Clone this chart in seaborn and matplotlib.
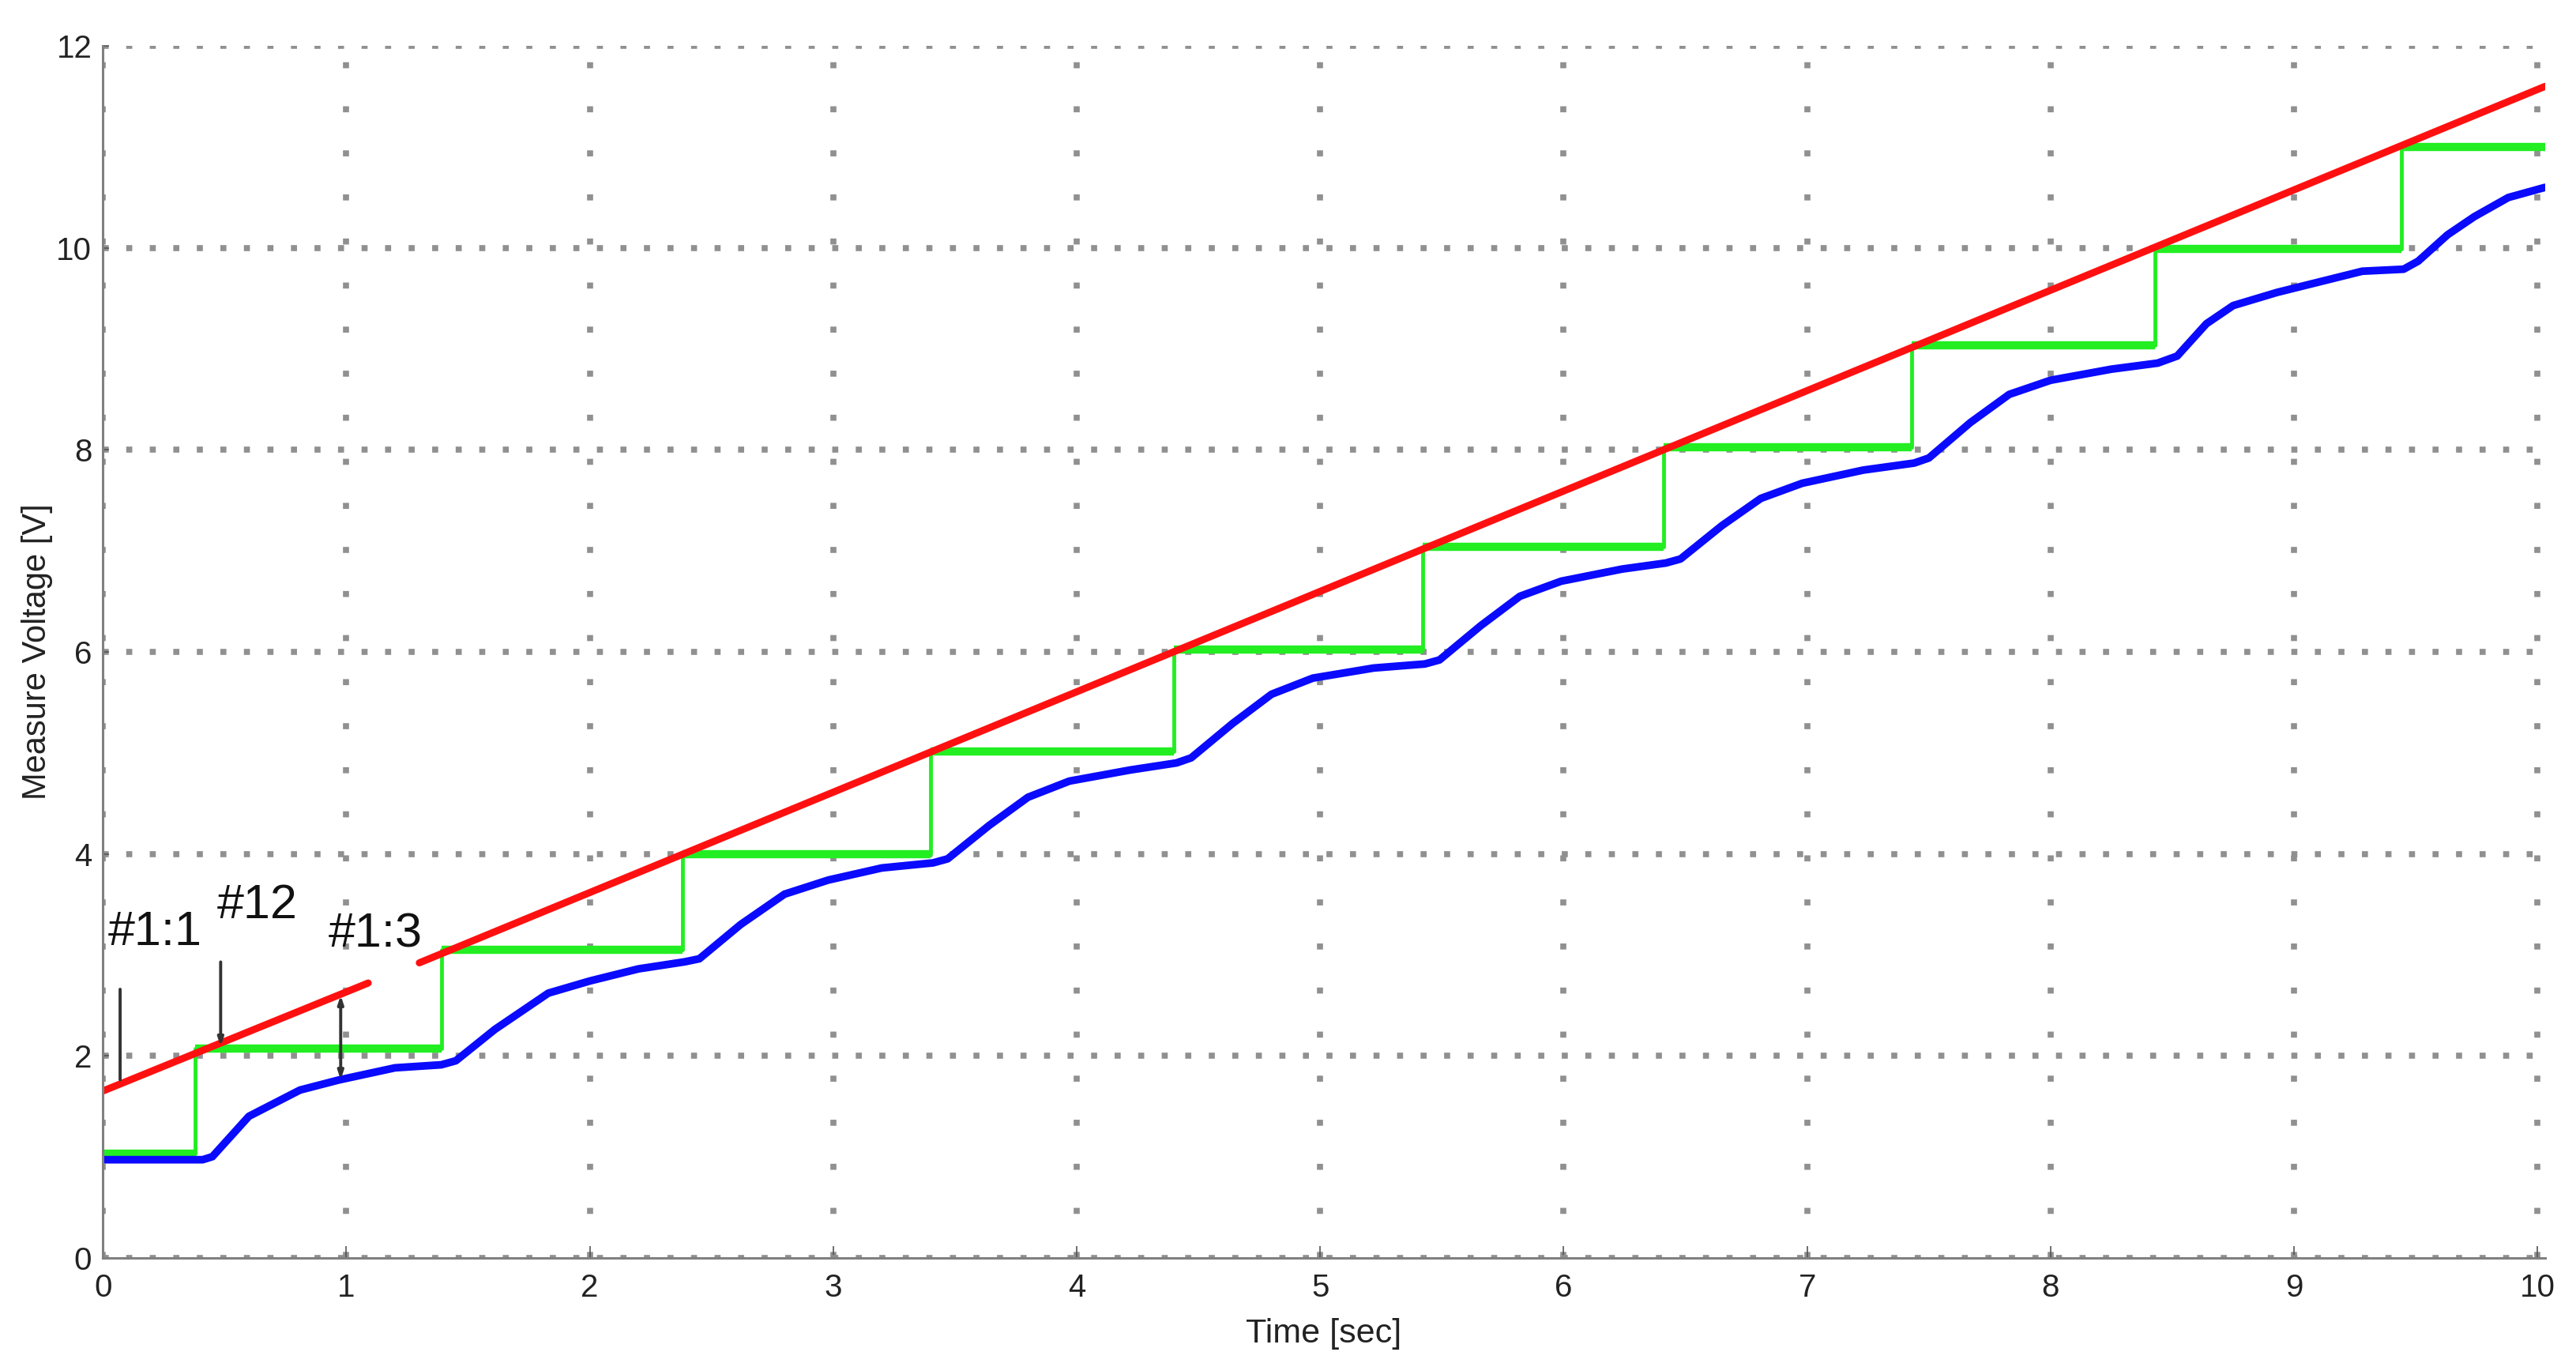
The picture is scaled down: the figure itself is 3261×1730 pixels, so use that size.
import numpy as np
import pandas as pd
import matplotlib
matplotlib.use("Agg")
import matplotlib.pyplot as plt
import seaborn as sns

# Data
# green reference staircase: switch times and levels
step_t = [0.38, 1.39, 2.38, 3.40, 4.40, 5.42, 6.41, 7.43, 8.43, 9.44]
step_lv = [1.03, 2.07, 3.05, 4.00, 5.01, 6.02, 7.04, 8.03, 9.04, 9.99, 11.00]
t_end = 10.03

# red ramp (two pieces with a gap)
red1_t = [0.00, 1.09]
red1_v = [1.65, 2.72]
red2_t = [1.30, 10.03]
red2_v = [2.92, 11.60]

# blue measured response
blue_t = [0.00, 0.41,
          0.45, 0.60, 0.81, 0.97, 1.20, 1.39,
          1.45, 1.61, 1.83, 2.00, 2.20, 2.39,
          2.45, 2.62, 2.80, 2.98, 3.20, 3.41,
          3.47, 3.64, 3.80, 3.97, 4.22, 4.41,
          4.47, 4.64, 4.80, 4.97, 5.22, 5.43,
          5.49, 5.66, 5.82, 5.99, 6.24, 6.42,
          6.48, 6.65, 6.81, 6.98, 7.23, 7.44,
          7.50, 7.67, 7.83, 8.00, 8.25, 8.44,
          8.52, 8.64, 8.75, 8.93, 9.28, 9.45,
          9.51, 9.63, 9.74, 9.88, 10.03]
blue_v = [0.97, 0.97,
          1.00, 1.40, 1.66, 1.76, 1.88, 1.91,
          1.95, 2.26, 2.62, 2.74, 2.86, 2.93,
          2.96, 3.30, 3.60, 3.74, 3.86, 3.91,
          3.95, 4.28, 4.56, 4.72, 4.83, 4.90,
          4.95, 5.29, 5.58, 5.74, 5.84, 5.88,
          5.92, 6.26, 6.55, 6.70, 6.82, 6.88,
          6.92, 7.25, 7.52, 7.67, 7.80, 7.87,
          7.92, 8.27, 8.55, 8.69, 8.80, 8.86,
          8.93, 9.25, 9.43, 9.56, 9.77, 9.79,
          9.87, 10.13, 10.31, 10.50, 10.60]

x_ticks = [0, 1, 2, 3, 4, 5, 6, 7, 8, 9, 10]
y_ticks = [0, 2, 4, 6, 8, 10, 12]

sns.set_style("white")
plt.rcParams['font.family'] = ['Liberation Sans', 'DejaVu Sans']

fig = plt.figure(figsize=(32.62, 17.30), dpi=100)
ax = fig.add_axes([0.0399, 0.080, 0.9477, 0.8863])

# grid: MATLAB-like sparse dots
ax.set_axisbelow(True)
ax.yaxis.grid(True, color='#909090', linewidth=5.5, linestyle=(0, (1, 2.9)))
ax.xaxis.grid(True, color='#909090', linewidth=5.5, linestyle=(0, (1, 6.3)))

# green staircase: thin risers, thick treads
green_t = [0.0] + step_t + [t_end]
green = pd.DataFrame({'t': green_t, 'v': step_lv + [step_lv[-1]]})
sns.lineplot(data=green, x='t', y='v', drawstyle='steps-post', color='#22ee22',
             linewidth=3.5, ax=ax, sort=False)
ax.hlines(step_lv, green_t[:-1], green_t[1:], color='#22ee22', linewidth=7.5)

# red ramp
sns.lineplot(x=red1_t, y=red1_v, color='#ff1010', linewidth=6.5, ax=ax, sort=False)
sns.lineplot(x=red2_t, y=red2_v, color='#ff1010', linewidth=6.5, ax=ax, sort=False)

# blue response
sns.lineplot(x=blue_t, y=blue_v, color='#0a0aff', linewidth=7, ax=ax, sort=False)

# annotations
ann_kw = dict(fontsize=44, color='#111111', ha='center', va='center')
ax.text(0.214, 3.22, '#1:1', **ann_kw)
ax.text(0.636, 3.48, '#12', **ann_kw)
ax.text(1.12, 3.20, '#1:3', **ann_kw)
ax.annotate('', xy=(0.071, 1.74), xytext=(0.071, 2.68),
            arrowprops=dict(arrowstyle='-', color='#333333', lw=2.8))
ax.annotate('', xy=(0.484, 2.07), xytext=(0.484, 2.95),
            arrowprops=dict(arrowstyle='-|>,head_length=0.6,head_width=0.2',
                            color='#333333', lw=2.8))
ax.annotate('', xy=(0.977, 1.74), xytext=(0.977, 2.62),
            arrowprops=dict(arrowstyle='<|-|>,head_length=0.6,head_width=0.2',
                            color='#333333', lw=2.8))

ax.set_xlim(0, t_end)
ax.set_ylim(0, 12)
ax.set_xticks(x_ticks)
ax.set_yticks(y_ticks)
ax.tick_params(axis='x', direction='in', length=11, width=1.2, colors='#555555',
               labelcolor='#222222', labelsize=29, pad=14, bottom=True)
ax.tick_params(axis='y', direction='in', length=6, width=1.2, colors='#555555',
               labelcolor='#222222', labelsize=29, pad=10, left=True)

for side in ['top', 'right']:
    ax.spines[side].set_visible(False)
for side in ['left', 'bottom']:
    ax.spines[side].set_color('#808080')
    ax.spines[side].set_linewidth(2.2)

ax.set_xlabel('Time [sec]', fontsize=31, color='#222222')
ax.xaxis.set_label_coords(0.5, -0.0626)
ax.xaxis.label.set_va('center')
ax.set_ylabel('Measure Voltage [V]', fontsize=30, color='#222222')
ax.yaxis.set_label_coords(-0.0269, 0.5)
ax.yaxis.label.set_va('center')

plt.savefig('out.png', dpi=100)
